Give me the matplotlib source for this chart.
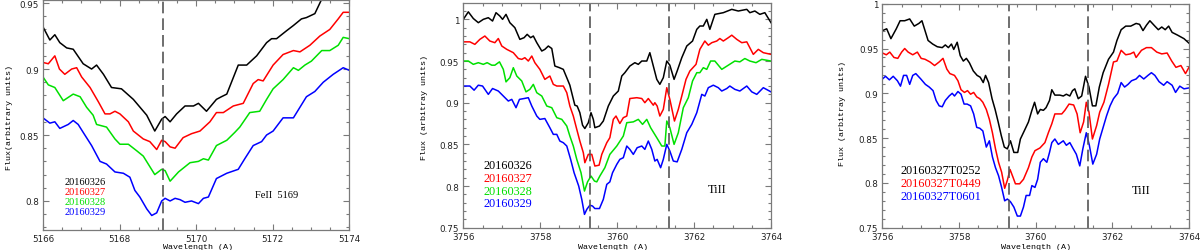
import matplotlib
matplotlib.use("Agg")
import matplotlib.pyplot as plt
from matplotlib.ticker import MultipleLocator

# ---- panel 1: FeII 5169 ----
fe_dates = ["20160326", "20160327", "20160328", "20160329"]
fe_wl_326 = [5166.00, 5166.18, 5166.31, 5166.44, 5166.62, 5166.79, 5167.05, 5167.27, 5167.40, 5167.58,
             5167.79, 5168.05, 5168.36, 5168.71, 5168.92, 5169.10, 5169.19, 5169.32, 5169.49, 5169.71,
             5169.93, 5170.06, 5170.27, 5170.53, 5170.66, 5170.80, 5171.10, 5171.32, 5171.58, 5171.84,
             5171.97, 5172.10, 5172.36, 5172.54, 5172.75, 5172.88, 5173.10, 5173.28, 5173.49]
fe_fx_326 = [0.932, 0.922, 0.926, 0.920, 0.916, 0.915, 0.904, 0.900, 0.903, 0.896,
             0.886, 0.885, 0.877, 0.865, 0.853, 0.862, 0.864, 0.860, 0.866, 0.872,
             0.872, 0.874, 0.868, 0.877, 0.879, 0.881, 0.903, 0.903, 0.910, 0.920,
             0.923, 0.923, 0.929, 0.933, 0.938, 0.939, 0.942, 0.953, 0.963]
fe_wl_327 = [5166.00, 5166.14, 5166.31, 5166.43, 5166.57, 5166.75, 5166.88, 5167.01, 5167.23, 5167.45,
             5167.62, 5167.75, 5167.88, 5168.01, 5168.23, 5168.36, 5168.62, 5168.79, 5168.97, 5169.10,
             5169.19, 5169.32, 5169.45, 5169.66, 5169.88, 5170.10, 5170.36, 5170.53, 5170.71, 5170.97,
             5171.23, 5171.49, 5171.62, 5171.75, 5172.01, 5172.27, 5172.45, 5172.54, 5172.71, 5172.97,
             5173.23, 5173.49, 5173.71, 5173.84, 5174.00]
fe_fx_327 = [0.905, 0.904, 0.910, 0.900, 0.896, 0.900, 0.901, 0.894, 0.886, 0.875,
             0.866, 0.866, 0.868, 0.866, 0.860, 0.853, 0.847, 0.845, 0.839, 0.846,
             0.845, 0.841, 0.840, 0.848, 0.851, 0.853, 0.860, 0.867, 0.867, 0.872,
             0.874, 0.889, 0.892, 0.891, 0.903, 0.911, 0.913, 0.914, 0.913, 0.918,
             0.925, 0.930, 0.938, 0.943, 0.943]
fe_wl_328 = [5166.00, 5166.14, 5166.31, 5166.53, 5166.79, 5166.97, 5167.14, 5167.31, 5167.40, 5167.66,
             5167.88, 5168.01, 5168.23, 5168.45, 5168.62, 5168.92, 5169.10, 5169.19, 5169.32, 5169.54,
             5169.84, 5170.06, 5170.19, 5170.32, 5170.53, 5170.80, 5171.01, 5171.14, 5171.40, 5171.66,
             5171.84, 5172.01, 5172.27, 5172.54, 5172.67, 5172.84, 5173.01, 5173.28, 5173.49, 5173.71,
             5173.84, 5174.00]
fe_fx_328 = [0.894, 0.888, 0.886, 0.876, 0.881, 0.879, 0.871, 0.865, 0.858, 0.856,
             0.847, 0.843, 0.843, 0.838, 0.834, 0.820, 0.824, 0.823, 0.815, 0.822,
             0.829, 0.830, 0.832, 0.831, 0.842, 0.846, 0.852, 0.856, 0.867, 0.868,
             0.877, 0.885, 0.892, 0.901, 0.899, 0.903, 0.906, 0.914, 0.914, 0.918,
             0.924, 0.923]
fe_wl_329 = [5166.00, 5166.18, 5166.31, 5166.44, 5166.66, 5166.79, 5166.92, 5167.05, 5167.27, 5167.49,
             5167.66, 5167.88, 5168.10, 5168.27, 5168.40, 5168.53, 5168.71, 5168.84, 5168.97, 5169.10,
             5169.19, 5169.32, 5169.45, 5169.58, 5169.71, 5169.88, 5170.06, 5170.19, 5170.32, 5170.53,
             5170.80, 5171.10, 5171.27, 5171.49, 5171.71, 5171.84, 5172.01, 5172.27, 5172.54, 5172.88,
             5173.10, 5173.32, 5173.58, 5173.84, 5174.00]
fe_fx_329 = [0.863, 0.859, 0.860, 0.855, 0.858, 0.861, 0.858, 0.852, 0.842, 0.830,
             0.828, 0.822, 0.821, 0.818, 0.808, 0.803, 0.794, 0.789, 0.791, 0.800,
             0.802, 0.800, 0.802, 0.801, 0.799, 0.800, 0.798, 0.802, 0.803, 0.817,
             0.821, 0.824, 0.832, 0.842, 0.845, 0.850, 0.853, 0.863, 0.863, 0.879,
             0.883, 0.890, 0.896, 0.901, 0.899]

# ---- panel 2: TiII, nightly ----
ti_dates = ["20160326", "20160327", "20160328", "20160329"]
ti_wl_326 = [3756.00, 3756.13, 3756.26, 3756.39, 3756.52, 3756.65, 3756.76, 3756.85, 3756.95, 3757.02,
             3757.11, 3757.21, 3757.34, 3757.47, 3757.58, 3757.66, 3757.75, 3757.82, 3757.91, 3758.04,
             3758.12, 3758.21, 3758.30, 3758.38, 3758.50, 3758.60, 3758.69, 3758.77, 3758.84, 3758.90,
             3758.96, 3759.03, 3759.10, 3759.16, 3759.25, 3759.32, 3759.38, 3759.42, 3759.54, 3759.64,
             3759.77, 3759.90, 3760.03, 3760.12, 3760.20, 3760.33, 3760.46, 3760.55, 3760.64, 3760.77,
             3760.85, 3760.94, 3761.03, 3761.11, 3761.20, 3761.29, 3761.37, 3761.48, 3761.56, 3761.68,
             3761.81, 3761.96, 3762.07, 3762.15, 3762.24, 3762.33, 3762.41, 3762.54, 3762.76, 3762.98,
             3763.15, 3763.37, 3763.45, 3763.58, 3763.71, 3763.84, 3764.00]
ti_fx_326 = [1.000, 1.009, 1.001, 0.996, 1.000, 1.002, 0.998, 1.008, 1.004, 1.000,
             1.006, 0.996, 0.990, 0.976, 0.978, 0.982, 0.978, 0.980, 0.972, 0.962,
             0.964, 0.968, 0.965, 0.944, 0.942, 0.940, 0.930, 0.921, 0.908, 0.897,
             0.896, 0.888, 0.873, 0.869, 0.876, 0.888, 0.880, 0.870, 0.872, 0.878,
             0.896, 0.908, 0.914, 0.932, 0.936, 0.944, 0.948, 0.946, 0.950, 0.950,
             0.960, 0.944, 0.928, 0.922, 0.930, 0.950, 0.945, 0.928, 0.938, 0.954,
             0.968, 0.974, 0.988, 0.992, 0.992, 1.000, 0.988, 1.006, 1.008, 1.012,
             1.010, 1.012, 1.008, 1.010, 1.006, 1.008, 0.996]
ti_wl_327 = [3756.00, 3756.17, 3756.30, 3756.43, 3756.56, 3756.69, 3756.82, 3756.91, 3757.00, 3757.13,
             3757.30, 3757.43, 3757.52, 3757.60, 3757.69, 3757.78, 3757.86, 3757.99, 3758.12, 3758.25,
             3758.34, 3758.43, 3758.60, 3758.69, 3758.77, 3758.86, 3758.95, 3759.03, 3759.12, 3759.16,
             3759.25, 3759.34, 3759.42, 3759.53, 3759.60, 3759.73, 3759.81, 3759.90, 3759.97, 3760.07,
             3760.16, 3760.25, 3760.33, 3760.51, 3760.64, 3760.72, 3760.81, 3760.94, 3760.98, 3761.04,
             3761.11, 3761.20, 3761.29, 3761.37, 3761.49, 3761.59, 3761.68, 3761.79, 3761.89, 3762.05,
             3762.15, 3762.28, 3762.37, 3762.46, 3762.59, 3762.67, 3762.76, 3762.89, 3762.98, 3763.11,
             3763.24, 3763.37, 3763.54, 3763.67, 3763.80, 3764.00]
ti_fx_327 = [0.973, 0.973, 0.970, 0.976, 0.980, 0.974, 0.972, 0.977, 0.968, 0.964,
             0.960, 0.953, 0.952, 0.954, 0.950, 0.956, 0.948, 0.940, 0.928, 0.932,
             0.922, 0.920, 0.920, 0.912, 0.896, 0.884, 0.868, 0.854, 0.840, 0.828,
             0.838, 0.838, 0.824, 0.825, 0.838, 0.852, 0.858, 0.880, 0.884, 0.875,
             0.882, 0.884, 0.905, 0.906, 0.905, 0.900, 0.905, 0.897, 0.900, 0.896,
             0.884, 0.892, 0.918, 0.904, 0.878, 0.892, 0.908, 0.928, 0.938, 0.946,
             0.964, 0.974, 0.969, 0.972, 0.974, 0.977, 0.974, 0.978, 0.981, 0.976,
             0.972, 0.973, 0.958, 0.964, 0.960, 0.958]
ti_wl_328 = [3756.00, 3756.13, 3756.26, 3756.39, 3756.52, 3756.62, 3756.74, 3756.82, 3756.94, 3757.04,
             3757.11, 3757.21, 3757.30, 3757.39, 3757.52, 3757.63, 3757.73, 3757.82, 3757.91, 3758.04,
             3758.17, 3758.30, 3758.43, 3758.56, 3758.69, 3758.77, 3758.86, 3758.95, 3759.06, 3759.15,
             3759.23, 3759.32, 3759.41, 3759.47, 3759.55, 3759.68, 3759.81, 3759.99, 3760.16, 3760.25,
             3760.42, 3760.55, 3760.66, 3760.77, 3760.87, 3761.03, 3761.16, 3761.24, 3761.29, 3761.37,
             3761.48, 3761.59, 3761.72, 3761.85, 3761.96, 3762.07, 3762.15, 3762.24, 3762.33, 3762.43,
             3762.54, 3762.63, 3762.72, 3762.89, 3763.06, 3763.19, 3763.32, 3763.45, 3763.61, 3763.76,
             3764.00]
ti_fx_328 = [0.950, 0.950, 0.946, 0.948, 0.946, 0.948, 0.945, 0.945, 0.949, 0.940,
             0.925, 0.930, 0.942, 0.932, 0.926, 0.913, 0.916, 0.922, 0.912, 0.908,
             0.896, 0.894, 0.882, 0.880, 0.872, 0.860, 0.848, 0.832, 0.816, 0.794,
             0.805, 0.812, 0.806, 0.805, 0.812, 0.822, 0.838, 0.848, 0.860, 0.876,
             0.877, 0.880, 0.874, 0.880, 0.870, 0.858, 0.848, 0.848, 0.878, 0.870,
             0.850, 0.864, 0.894, 0.906, 0.926, 0.936, 0.936, 0.942, 0.940, 0.950,
             0.950, 0.945, 0.940, 0.945, 0.950, 0.949, 0.953, 0.950, 0.948, 0.952,
             0.950]
ti_wl_329 = [3756.00, 3756.17, 3756.28, 3756.39, 3756.50, 3756.65, 3756.76, 3756.91, 3757.04, 3757.17,
             3757.26, 3757.37, 3757.46, 3757.58, 3757.69, 3757.78, 3757.91, 3757.99, 3758.12, 3758.25,
             3758.34, 3758.43, 3758.51, 3758.60, 3758.69, 3758.79, 3758.88, 3759.00, 3759.08, 3759.15,
             3759.21, 3759.29, 3759.36, 3759.42, 3759.54, 3759.64, 3759.73, 3759.81, 3759.88, 3759.99,
             3760.07, 3760.16, 3760.25, 3760.33, 3760.42, 3760.52, 3760.64, 3760.72, 3760.81, 3760.90,
             3760.98, 3761.04, 3761.13, 3761.20, 3761.29, 3761.37, 3761.46, 3761.56, 3761.68, 3761.81,
             3761.94, 3762.07, 3762.20, 3762.28, 3762.37, 3762.50, 3762.63, 3762.72, 3762.85, 3762.93,
             3763.06, 3763.19, 3763.37, 3763.50, 3763.63, 3763.80, 3764.00]
ti_fx_329 = [0.920, 0.920, 0.915, 0.921, 0.920, 0.910, 0.917, 0.914, 0.908, 0.902,
             0.904, 0.894, 0.904, 0.905, 0.906, 0.896, 0.884, 0.880, 0.881, 0.870,
             0.862, 0.862, 0.854, 0.852, 0.848, 0.832, 0.816, 0.800, 0.784, 0.766,
             0.772, 0.777, 0.776, 0.773, 0.773, 0.784, 0.802, 0.805, 0.816, 0.826,
             0.832, 0.834, 0.848, 0.844, 0.838, 0.846, 0.848, 0.844, 0.854, 0.844,
             0.830, 0.832, 0.822, 0.832, 0.850, 0.842, 0.830, 0.829, 0.844, 0.864,
             0.874, 0.888, 0.910, 0.908, 0.918, 0.921, 0.918, 0.914, 0.917, 0.920,
             0.916, 0.914, 0.920, 0.913, 0.910, 0.918, 0.913]

# ---- panel 3: TiII, one night ----
obs_times = ["20160327T0252", "20160327T0449", "20160327T0601"]
t_wl_0252 = [3756.00, 3756.11, 3756.22, 3756.36, 3756.46, 3756.58, 3756.71, 3756.83, 3756.95, 3757.03,
             3757.11, 3757.19, 3757.31, 3757.43, 3757.56, 3757.64, 3757.72, 3757.80, 3757.86, 3757.95,
             3758.03, 3758.11, 3758.19, 3758.27, 3758.37, 3758.47, 3758.55, 3758.63, 3758.69, 3758.77,
             3758.86, 3758.94, 3759.02, 3759.10, 3759.18, 3759.26, 3759.34, 3759.43, 3759.53, 3759.60,
             3759.70, 3759.81, 3759.90, 3759.97, 3760.05, 3760.12, 3760.20, 3760.27, 3760.36, 3760.42,
             3760.50, 3760.63, 3760.72, 3760.80, 3760.89, 3760.96, 3761.02, 3761.11, 3761.20, 3761.30,
             3761.39, 3761.48, 3761.57, 3761.66, 3761.76, 3761.90, 3762.03, 3762.12, 3762.23, 3762.35,
             3762.48, 3762.62, 3762.71, 3762.80, 3762.89, 3762.98, 3763.11, 3763.20, 3763.29, 3763.38,
             3763.47, 3763.56, 3763.70, 3763.87, 3764.00]
t_fx_0252 = [0.970, 0.972, 0.961, 0.972, 0.981, 0.981, 0.983, 0.975, 0.978, 0.981,
             0.970, 0.959, 0.955, 0.952, 0.951, 0.954, 0.951, 0.955, 0.949, 0.957,
             0.942, 0.936, 0.939, 0.934, 0.925, 0.920, 0.918, 0.912, 0.920, 0.912,
             0.894, 0.882, 0.868, 0.853, 0.840, 0.838, 0.847, 0.834, 0.834, 0.849,
             0.858, 0.868, 0.881, 0.890, 0.877, 0.882, 0.881, 0.884, 0.892, 0.904,
             0.898, 0.898, 0.897, 0.899, 0.897, 0.903, 0.905, 0.894, 0.897, 0.919,
             0.907, 0.886, 0.886, 0.907, 0.923, 0.938, 0.946, 0.959, 0.971, 0.975,
             0.975, 0.978, 0.977, 0.970, 0.976, 0.981, 0.975, 0.971, 0.974, 0.971,
             0.975, 0.968, 0.965, 0.961, 0.956]
t_wl_0449 = [3756.00, 3756.10, 3756.19, 3756.30, 3756.40, 3756.50, 3756.58, 3756.67, 3756.79, 3756.91,
             3757.01, 3757.11, 3757.24, 3757.36, 3757.48, 3757.58, 3757.68, 3757.76, 3757.88, 3757.97,
             3758.05, 3758.14, 3758.22, 3758.30, 3758.38, 3758.46, 3758.54, 3758.62, 3758.71, 3758.79,
             3758.87, 3758.95, 3759.03, 3759.11, 3759.19, 3759.26, 3759.33, 3759.41, 3759.47, 3759.58,
             3759.68, 3759.81, 3759.90, 3759.98, 3760.11, 3760.24, 3760.33, 3760.42, 3760.50, 3760.68,
             3760.76, 3760.87, 3760.99, 3761.08, 3761.16, 3761.25, 3761.32, 3761.39, 3761.48, 3761.59,
             3761.67, 3761.78, 3761.90, 3762.03, 3762.12, 3762.23, 3762.35, 3762.47, 3762.56, 3762.62,
             3762.76, 3762.89, 3763.02, 3763.16, 3763.29, 3763.43, 3763.55, 3763.66, 3763.79, 3763.91,
             3764.00]
t_fx_0449 = [0.945, 0.943, 0.946, 0.940, 0.939, 0.946, 0.950, 0.946, 0.943, 0.946,
             0.939, 0.938, 0.935, 0.931, 0.935, 0.939, 0.927, 0.922, 0.920, 0.914,
             0.904, 0.901, 0.903, 0.899, 0.901, 0.896, 0.894, 0.890, 0.882, 0.871,
             0.856, 0.838, 0.823, 0.812, 0.794, 0.803, 0.815, 0.806, 0.799, 0.799,
             0.804, 0.817, 0.829, 0.836, 0.839, 0.845, 0.856, 0.866, 0.877, 0.877,
             0.881, 0.888, 0.887, 0.877, 0.856, 0.868, 0.890, 0.879, 0.849, 0.864,
             0.879, 0.890, 0.910, 0.935, 0.936, 0.948, 0.943, 0.944, 0.946, 0.940,
             0.948, 0.951, 0.951, 0.946, 0.944, 0.945, 0.936, 0.929, 0.931, 0.922,
             0.929]
t_wl_0601 = [3756.00, 3756.08, 3756.18, 3756.28, 3756.39, 3756.47, 3756.55, 3756.63, 3756.71, 3756.79,
             3756.87, 3757.00, 3757.12, 3757.22, 3757.32, 3757.40, 3757.48, 3757.56, 3757.64, 3757.74,
             3757.82, 3757.88, 3757.97, 3758.05, 3758.13, 3758.21, 3758.30, 3758.38, 3758.46, 3758.54,
             3758.62, 3758.71, 3758.79, 3758.87, 3758.95, 3759.03, 3759.11, 3759.19, 3759.26, 3759.34,
             3759.43, 3759.52, 3759.60, 3759.68, 3759.75, 3759.84, 3759.90, 3759.98, 3760.05, 3760.12,
             3760.20, 3760.29, 3760.36, 3760.42, 3760.50, 3760.59, 3760.72, 3760.80, 3760.89, 3760.98,
             3761.06, 3761.15, 3761.23, 3761.32, 3761.40, 3761.49, 3761.59, 3761.67, 3761.76, 3761.85,
             3761.94, 3762.03, 3762.14, 3762.23, 3762.32, 3762.41, 3762.50, 3762.62, 3762.71, 3762.82,
             3762.93, 3763.02, 3763.11, 3763.22, 3763.34, 3763.43, 3763.56, 3763.65, 3763.76, 3763.87,
             3764.00]
t_fx_0601 = [0.916, 0.919, 0.915, 0.919, 0.914, 0.908, 0.920, 0.920, 0.910, 0.920,
             0.922, 0.916, 0.910, 0.907, 0.903, 0.892, 0.886, 0.885, 0.892, 0.897,
             0.900, 0.897, 0.902, 0.899, 0.888, 0.888, 0.886, 0.877, 0.862, 0.861,
             0.858, 0.840, 0.847, 0.829, 0.817, 0.808, 0.795, 0.780, 0.782, 0.779,
             0.773, 0.763, 0.763, 0.773, 0.786, 0.786, 0.797, 0.795, 0.804, 0.823,
             0.827, 0.823, 0.834, 0.845, 0.849, 0.843, 0.847, 0.842, 0.845, 0.838,
             0.832, 0.819, 0.838, 0.856, 0.842, 0.821, 0.832, 0.849, 0.862, 0.875,
             0.886, 0.894, 0.900, 0.912, 0.907, 0.910, 0.914, 0.916, 0.920, 0.916,
             0.920, 0.923, 0.920, 0.913, 0.909, 0.913, 0.909, 0.901, 0.908, 0.905,
             0.906]

# line positions marked with dashes
fe_line = [5169.13]
ti_lines = [3759.29, 3761.36]

COLORS = ["black", "#ff0000", "#00e000", "#0000ff"]
FRAME = "#7a7a7a"
MONO = "Liberation Mono"
SERIF = "Liberation Serif"


def style_axes(ax, xlim, ylim):
    ax.set_xlim(*xlim)
    ax.set_ylim(*ylim)
    ax.xaxis.set_major_locator(MultipleLocator(2))
    ax.xaxis.set_minor_locator(MultipleLocator(0.5))
    ax.yaxis.set_major_locator(MultipleLocator(0.05))
    ax.yaxis.set_minor_locator(MultipleLocator(0.01))
    ax.yaxis.set_major_formatter(plt.FuncFormatter(lambda v, p: f"{v:g}"))
    ax.xaxis.set_major_formatter(plt.FuncFormatter(lambda v, p: f"{v:.0f}"))
    ax.tick_params(which="both", direction="in", top=True, right=True, color=FRAME,
                   width=0.8, labelsize=6.3, labelcolor="#222222")
    ax.tick_params(which="major", length=4.5, pad=3)
    ax.tick_params(axis="x", which="major", pad=2.8)
    ax.tick_params(which="minor", length=2.5)
    for s in ax.spines.values():
        s.set_edgecolor(FRAME)
        s.set_linewidth(0.9)


fig = plt.figure(figsize=(12, 2.51), dpi=100)
ax1 = fig.add_axes([0.0358, 0.0797, 0.2553, 0.9183])
ax2 = fig.add_axes([0.3861, 0.0888, 0.2564, 0.8952])
ax3 = fig.add_axes([0.7354, 0.0888, 0.2554, 0.8924])

# panel 1
fe_wls = [fe_wl_326, fe_wl_327, fe_wl_328, fe_wl_329]
fe_fxs = [fe_fx_326, fe_fx_327, fe_fx_328, fe_fx_329]
for wl, fx, c in zip(fe_wls, fe_fxs, COLORS):
    ax1.plot(wl, fx, color=c, lw=1.1)
for x in fe_line:
    ax1.axvline(x, color="#555555", lw=1.2, ls=(0, (7, 3)))
style_axes(ax1, (5166, 5174), (0.778, 0.9527))
for lab, c, yy in zip(fe_dates, COLORS, [0.2095, 0.166, 0.1223, 0.079]):
    ax1.text(0.072, yy, lab, color=c, transform=ax1.transAxes, fontsize=7.5,
             family=SERIF, va="center", ha="left")
ax1.text(0.692, 0.153, "FeII  5169", transform=ax1.transAxes, fontsize=7.5,
         family=SERIF, va="center", ha="left")

# panel 2
ti_wls = [ti_wl_326, ti_wl_327, ti_wl_328, ti_wl_329]
ti_fxs = [ti_fx_326, ti_fx_327, ti_fx_328, ti_fx_329]
for wl, fx, c in zip(ti_wls, ti_fxs, COLORS):
    ax2.plot(wl, fx, color=c, lw=1.1)
for x in ti_lines:
    ax2.axvline(x, color="#555555", lw=1.2, ls=(0, (7, 3)))
style_axes(ax2, (3756, 3764), (0.75, 1.0196))
for lab, c, yy in zip(ti_dates, COLORS, [0.2804, 0.2212, 0.1633, 0.1086]):
    ax2.text(0.065, yy, lab, color=c, transform=ax2.transAxes, fontsize=8.8,
             family=SERIF, va="center", ha="left")
ax2.text(0.795, 0.172, "TiII", transform=ax2.transAxes, fontsize=8.8,
         family=SERIF, va="center", ha="left")

# panel 3
t_wls = [t_wl_0252, t_wl_0449, t_wl_0601]
t_fxs = [t_fx_0252, t_fx_0449, t_fx_0601]
t_cols = [COLORS[0], COLORS[1], COLORS[3]]
for wl, fx, c in zip(t_wls, t_fxs, t_cols):
    ax3.plot(wl, fx, color=c, lw=1.1)
for x in ti_lines:
    ax3.axvline(x, color="#555555", lw=1.2, ls=(0, (7, 3)))
style_axes(ax3, (3756, 3764), (0.75, 1.0))
for lab, c, yy in zip(obs_times, t_cols, [0.259, 0.1996, 0.140]):
    ax3.text(0.060, yy, lab, color=c, transform=ax3.transAxes, fontsize=8.8,
             family=SERIF, va="center", ha="left")
ax3.text(0.813, 0.1696, "TiII", transform=ax3.transAxes, fontsize=8.8,
         family=SERIF, va="center", ha="left")

# axis titles
fig.text(0.005, 1 - 117 / 251, "Flux(arbitrary units)", rotation=90, fontsize=6,
         family=MONO, va="center", ha="left")
fig.text(425 / 1200, 1 - 108 / 251, "Flux (arbitray units)", rotation=90, fontsize=6,
         family=MONO, va="center", ha="center")
fig.text(843 / 1200, 1 - 113 / 251, "Flux (arbitray units)", rotation=90, fontsize=6,
         family=MONO, va="center", ha="center")
for cx in [198, 613, 1036]:
    fig.text(cx / 1200, 1 - 247.3 / 251, "Wavelength (A)", fontsize=6, family=MONO,
             va="center", ha="center")

fig.savefig("out.png", dpi=100)
